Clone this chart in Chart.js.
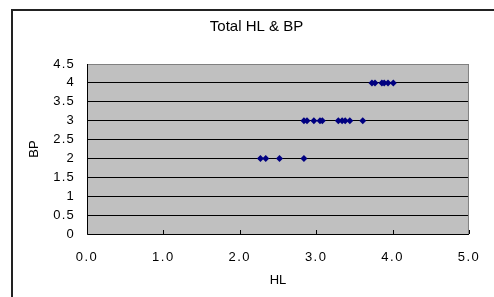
<!DOCTYPE html>
<html><head><meta charset="utf-8">
<script src="https://cdn.jsdelivr.net/npm/chart.js@4"></script>
<style>
html,body{margin:0;padding:0;background:#fff;}
#wrap{position:relative;width:494px;height:297px;overflow:hidden;background:#fff;}
#frame{position:absolute;left:11px;top:9px;width:700px;height:500px;border-left:2px solid #222;border-top:2px solid #222;}
canvas{position:absolute;left:0;top:0;}
</style></head>
<body><div id="wrap"><div id="frame"></div><canvas id="c" width="494" height="297"></canvas></div>
<script>
const chartTitle = 'Total HL & BP';
const xLabel = 'HL';
const yLabel = 'BP';
const hlValues = [2.27, 2.34, 2.52, 2.84,
                  2.84, 2.88, 2.97, 3.05, 3.08, 3.29, 3.34, 3.38, 3.44, 3.61,
                  3.73, 3.77, 3.86, 3.89, 3.94, 4.01];
const bpValues = [2, 2, 2, 2,
                  3, 3, 3, 3, 3, 3, 3, 3, 3, 3,
                  4, 4, 4, 4, 4, 4];
const xTickValues = [0, 1, 2, 3, 4, 5];
const yTickValues = [0, 0.5, 1, 1.5, 2, 2.5, 3, 3.5, 4, 4.5];

const FONT = "'Liberation Sans', Arial, sans-serif";

const plotBg = {
  id: 'plotBg',
  afterLayout(chart) {
    // centre the title over the whole chart frame
    if (chart.titleBlock) { chart.titleBlock.left = 12; chart.titleBlock.right = 501; }
  },
  beforeDraw(chart) {
    const {ctx, chartArea: a} = chart;
    ctx.save();
    ctx.fillStyle = '#c0c0c0';
    ctx.fillRect(a.left, a.top, a.right - a.left, a.bottom - a.top);
    ctx.restore();
    const spacing = {x: '1.5px', y: '1.2px'};
    ['x', 'y'].forEach(id => {
      const s = chart.scales[id];
      if (s && !s._spaced) {
        const orig = s.drawLabels;
        s.drawLabels = function (area) {
          const c = this.ctx; c.save(); c.letterSpacing = spacing[id];
          orig.call(this, area); c.restore();
        };
        s._spaced = true;
      }
    });
  },
  beforeDatasetsDraw(chart) {
    const {ctx, chartArea: a, scales} = chart;
    ctx.save();
    ctx.strokeStyle = '#808080';
    ctx.lineWidth = 1;
    ctx.strokeRect(a.left + 0.5, a.top + 0.5, a.right - a.left - 1, a.bottom - a.top);
    ctx.strokeStyle = '#000';
    ctx.beginPath();
    ctx.moveTo(a.left + 0.5, a.top); ctx.lineTo(a.left + 0.5, a.bottom + 0.5);
    ctx.lineTo(a.right, a.bottom + 0.5);
    xTickValues.forEach(v => {
      const px = Math.round(scales.x.getPixelForValue(v)) + 0.5;
      ctx.moveTo(px, a.bottom); ctx.lineTo(px, a.bottom - 4);
    });
    ctx.stroke();
    ctx.restore();
  }
};

new Chart(document.getElementById('c'), {
  type: 'scatter',
  data: {
    datasets: [{
      data: hlValues.map((x, i) => ({x, y: bpValues[i]})),
      pointStyle: 'rectRot',
      pointRadius: 3.5,
      pointBackgroundColor: '#000080',
      pointBorderColor: '#000080',
      pointBorderWidth: 0
    }]
  },
  options: {
    responsive: false,
    animation: false,
    devicePixelRatio: 1,
    layout: {padding: {left: 12, right: 22, top: 0, bottom: 5}},
    plugins: {
      legend: {display: false},
      tooltip: {enabled: false},
      title: {
        display: true, text: chartTitle, color: '#000',
        font: {family: FONT, size: 15, weight: 'normal'},
        padding: {top: 18, bottom: 28}
      }
    },
    scales: {
      x: {
        type: 'linear', min: 0, max: 5,
        afterBuildTicks: s => { s.ticks = xTickValues.map(v => ({value: v})); },
        afterFit: s => { s.height = 58; },
        ticks: {color: '#000', font: {family: FONT, size: 13}, padding: 16,
                callback: v => Number(v).toFixed(1), maxRotation: 0},
        grid: {display: false, drawTicks: false},
        border: {display: false},
        title: {display: true, text: xLabel, color: '#000', font: {family: FONT, size: 13}, padding: {top: 4}}
      },
      y: {
        type: 'linear', min: 0, max: 4.5,
        afterBuildTicks: s => { s.ticks = yTickValues.map(v => ({value: v})); },
        afterFit: s => { s.width = 75; },
        ticks: {color: '#000', font: {family: FONT, size: 13}, padding: 12,
                callback: v => String(v)},
        grid: {color: '#000', lineWidth: 1, drawTicks: false},
        border: {display: false},
        title: {display: true, text: yLabel, color: '#000', font: {family: FONT, size: 13}, padding: {top: 15}}
      }
    }
  },
  plugins: [plotBg]
});
</script>
</body></html>
